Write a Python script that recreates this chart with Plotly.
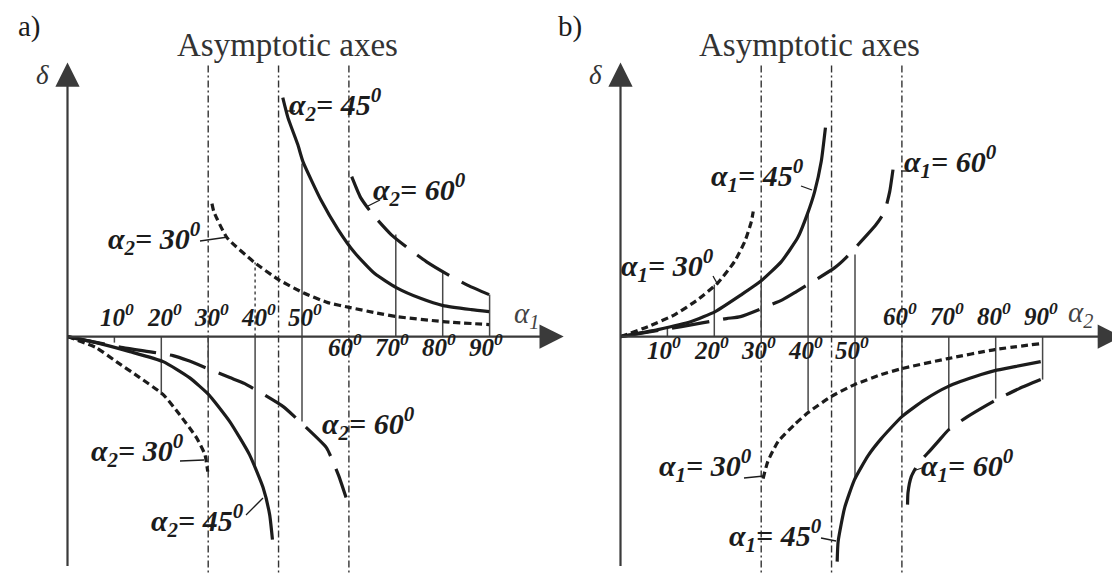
import plotly.graph_objects as go

# ---------------- data: x = angle (deg), y = deflection delta (arbitrary units) ----------------
# Panel a) delta vs alpha1 for alpha2 = 30, 45, 60 deg
a_up30_x = [30.8, 31.2, 34.0, 39.9, 45.0, 50.2, 55.5, 60.3, 65.5, 70.1, 80.1, 89.9]
a_up30_y = [13.3, 12.5, 9.9, 7.4, 5.7, 4.4, 3.4, 2.9, 2.4, 2.0, 1.5, 1.2]
a_up45_x = [45.9, 47.0, 49.1, 50.2, 54.1, 57.7, 61.2, 65.5, 70.1, 75.4, 80.1, 86.1, 89.9]
a_up45_y = [23.9, 21.9, 19.2, 17.5, 13.6, 10.7, 8.4, 6.3, 4.9, 3.8, 3.1, 2.7, 2.5]
a_up60_x = [60.6, 62.5, 65.1, 69.0, 72.7, 76.5, 81.1, 85.5, 89.9]
a_up60_y = [16.0, 13.9, 12.2, 10.2, 8.8, 7.5, 6.2, 5.1, 4.2]

a_lo30_x = [0.0, 6.1, 10.4, 15.4, 20.4, 23.9, 27.5, 29.3, 29.9]
a_lo30_y = [0.0, -1.1, -2.5, -4.1, -5.8, -7.8, -10.1, -11.8, -13.5]
a_lo45_x = [0.0, 6.1, 13.3, 20.4, 26.0, 30.1, 34.6, 38.8, 41.7, 43.1, 43.7]
a_lo45_y = [0.0, -0.6, -1.5, -2.5, -4.1, -5.8, -8.5, -11.8, -15.1, -17.8, -20.3]
a_lo60_x = [0.0, 11.8, 22.5, 25.7, 34.6, 37.8, 46.0, 48.4, 55.2, 56.6, 57.9, 59.4]
a_lo60_y = [0.0, -1.1, -1.9, -2.4, -4.1, -4.7, -7.0, -8.0, -11.1, -12.5, -14.0, -16.1]

a_vert_x = [40, 50, 70, 80, 90, 10, 20, 30, 40, 50]
a_vert_y = [7.4, 17.3, 10.2, 6.4, 4.2, -0.6, -5.8, -5.8, -13.1, -8.5]
a_vert_dotted = [True, False, False, False, False, False, False, False, False, False]

# Panel b) delta vs alpha2 for alpha1 = 30, 45, 60 deg
b_up30_x = [0.0, 5.9, 11.6, 16.5, 20.8, 24.3, 26.5, 27.9, 28.3]
b_up30_y = [0.0, 1.0, 2.2, 3.7, 5.4, 7.5, 9.5, 11.5, 12.5]
b_up45_x = [0.0, 8.0, 15.1, 20.2, 25.8, 29.8, 34.3, 37.8, 39.8, 41.4, 42.8, 43.7]
b_up45_y = [0.0, 0.7, 1.5, 2.5, 4.2, 5.5, 7.5, 9.9, 12.2, 14.5, 17.5, 20.9]
b_up60_x = [0.0, 13.0, 22.6, 25.6, 34.6, 37.5, 45.7, 48.1, 54.5, 56.3, 57.4, 58.1]
b_up60_y = [0.0, 1.0, 1.8, 2.0, 3.7, 4.5, 6.9, 7.9, 11.2, 12.5, 14.5, 16.7]

b_lo30_x = [30.4, 31.4, 33.6, 37.1, 40.0, 44.9, 49.9, 55.6, 60.0, 69.8, 79.8, 89.6]
b_lo30_y = [-14.2, -12.5, -10.5, -8.8, -7.6, -6.0, -4.8, -3.8, -3.2, -2.2, -1.3, -0.7]
b_lo45_x = [46.2, 46.4, 47.8, 49.9, 52.8, 55.6, 60.0, 64.9, 69.8, 76.9, 79.8, 84.1, 89.6]
b_lo45_y = [-22.5, -20.5, -17.1, -14.3, -11.9, -10.2, -8.0, -6.3, -5.0, -3.8, -3.4, -3.0, -2.5]
b_lo60_x = [61.2, 61.3, 62.0, 63.5, 66.0, 67.7, 70.0, 74.0, 78.3, 80.6, 85.0, 89.6]
b_lo60_y = [-16.8, -15.6, -14.0, -12.7, -11.4, -10.5, -9.3, -8.0, -6.8, -6.2, -5.2, -4.3]

b_vert_x = [10, 20, 30, 40, 50, 40, 50, 60, 70, 80, 90]
b_vert_y = [1.0, 5.2, 6.0, 12.4, 8.2, -7.4, -14.3, -8.0, -9.3, -6.2, -4.3]

asym_x = [30, 45, 60]
asym_y = [27.1, -24.7]

tick_vals = [10, 20, 30, 40, 50, 60, 70, 80, 90]
tick_text = ["10", "20", "30", "40", "50", "60", "70", "80", "90"]

# ---------------- styling ----------------
INK = "#1c1c1c"
THIN = "#484848"
AXC = "#3a3a3a"
SERIF = "Liberation Serif"
W, H = 1120, 575
PXDEG = 4.69
ORIG_A, ORIG_B, ORIG_Y = 59.5, 612.5, 328.6
PX_PER_D = 10.0

def P(x, y):
    return x / W, 1 - y / H

fig = go.Figure()

def curve(xs, ys, ax, dash):
    fig.add_trace(go.Scatter(x=xs, y=ys, xaxis=ax, yaxis="y", mode="lines",
                             line=dict(color=INK, width=3.2, dash=dash, shape="spline", smoothing=0.5),
                             hoverinfo="skip", showlegend=False))

def verticals(xs, ys, ax, dotted=None):
    for i, (vx, vy) in enumerate(zip(xs, ys)):
        d = "dot" if (dotted and dotted[i]) else "solid"
        fig.add_trace(go.Scatter(x=[vx, vx], y=[0, vy], xaxis=ax, yaxis="y", mode="lines",
                                 line=dict(color=THIN, width=1.5, dash=d),
                                 hoverinfo="skip", showlegend=False))

def asymptotes(ax):
    for vx in asym_x:
        fig.add_trace(go.Scatter(x=[vx, vx], y=asym_y, xaxis=ax, yaxis="y", mode="lines",
                                 line=dict(color="#333333", width=1.4, dash="7px,3px,2px,3px"),
                                 hoverinfo="skip", showlegend=False))

SHORT = "7px,4px"
LONG = "38px,14px"

for ax in ("x", "x2"):
    asymptotes(ax)
verticals(a_vert_x, a_vert_y, "x", a_vert_dotted)
verticals(b_vert_x, b_vert_y, "x2")

curve(a_up30_x, a_up30_y, "x", SHORT)
curve(a_up45_x, a_up45_y, "x", "solid")
curve(a_up60_x, a_up60_y, "x", LONG)
curve(a_lo30_x, a_lo30_y, "x", SHORT)
curve(a_lo45_x, a_lo45_y, "x", "solid")
curve(a_lo60_x, a_lo60_y, "x", LONG)

curve(b_up30_x, b_up30_y, "x2", SHORT)
curve(b_up45_x, b_up45_y, "x2", "solid")
curve(b_up60_x, b_up60_y, "x2", LONG)
curve(b_lo30_x, b_lo30_y, "x2", SHORT)
curve(b_lo45_x, b_lo45_y, "x2", "solid")
curve(b_lo60_x, b_lo60_y, "x2", LONG)

ann = []
shapes = []

# coordinate axes with arrows (drawn in data coordinates of each panel)
for ax, xmax in (("x", 105.8), ("x2", 106.9)):
    ann.append(dict(x=xmax, y=0, xref=ax, yref="y", ax=0, ay=0, axref=ax, ayref="y",
                    showarrow=True, arrowhead=2, arrowsize=2.2, arrowwidth=2.2,
                    arrowcolor=AXC, text=""))
    ann.append(dict(x=0, y=27.4, xref=ax, yref="y", ax=0, ay=-23.1, axref=ax, ayref="y",
                    showarrow=True, arrowhead=2, arrowsize=2.2, arrowwidth=2.2,
                    arrowcolor=AXC, text=""))

def txt(x, y, s, size, italic=True, bold=True, color=INK, xanchor="center"):
    if italic:
        s = "<i>" + s + "</i>"
    if bold:
        s = "<b>" + s + "</b>"
    px, py = P(x, y)
    ann.append(dict(x=px, y=py, xref="paper", yref="paper", text=s, showarrow=False,
                    xanchor=xanchor, yanchor="middle",
                    font=dict(family=SERIF, size=size, color=color)))

def lead(x0, y0, x1, y1):
    a0, b0 = P(x0, y0)
    a1, b1 = P(x1, y1)
    shapes.append(dict(type="line", xref="paper", yref="paper", x0=a0, y0=b0, x1=a1, y1=b1,
                       line=dict(color=INK, width=1.3)))

# panel titles
txt(21, 19, "a)", 29, italic=False, bold=False)
txt(562, 19, "b)", 29, italic=False, bold=False)
txt(279, 37, "Asymptotic axes", 33, italic=False, bold=False, color="#333333")
txt(801, 37, "Asymptotic axes", 33, italic=False, bold=False, color="#333333")
txt(34, 67, "δ", 27, bold=False, color="#333333")
txt(587, 67, "δ", 27, bold=False, color="#333333")
txt(518, 307, "α<sub>1</sub>", 29, bold=False, color="#444444")
txt(1072, 306, "α<sub>2</sub>", 29, bold=False, color="#444444")

# tick labels
for v, t in zip(tick_vals, tick_text):
    xa = ORIG_A + PXDEG * v
    xb = ORIG_B + PXDEG * v
    s = t + "<sup>0</sup>"
    if v <= 50:
        txt(xa + 3, 307, s, 25)
        txt(xb - 3, 340, s, 25)
    else:
        txt(xa - 4, 337, s, 25)
        txt(xb - 2, 306, s, 25)

# curve labels (left edge, vertical centre)
def alab(x, y, idx, val):
    txt(x - 9, y - 8, "α<sub>%d</sub>= %s<sup>0</sup>" % (idx, val), 30, xanchor="left")

alab(288, 105, 2, "45")
alab(372, 189, 2, "60")
alab(107, 238, 2, "30")
alab(90, 450, 2, "30")
alab(150, 520, 2, "45")
alab(321, 423, 2, "60")

alab(710, 175, 1, "45")
alab(620, 265, 1, "30")
alab(903, 162, 1, "60")
alab(658, 465, 1, "30")
alab(728, 535, 1, "45")
alab(920, 465, 1, "60")

# leader lines
lead(278, 103, 287, 103)
lead(360, 198, 372, 192)
lead(192, 233, 220, 229)
lead(172, 453, 196, 452)
lead(238, 507, 255, 490)
lead(793, 178, 804, 182)
lead(705, 268, 710, 277)
lead(893, 163, 901, 163)
lead(736, 470, 756, 468)
lead(813, 530, 828, 533)
lead(905, 463, 917, 459)

fig.update_layout(
    width=W, height=H, margin=dict(l=0, r=0, t=0, b=0, pad=0),
    paper_bgcolor="white", plot_bgcolor="white", showlegend=False,
    xaxis=dict(domain=[0, 0.5], range=[-ORIG_A / PXDEG, (560 - ORIG_A) / PXDEG],
               visible=False, fixedrange=True),
    xaxis2=dict(domain=[0.5, 1], range=[-(ORIG_B - 560) / PXDEG, (1120 - ORIG_B) / PXDEG],
                anchor="y", visible=False, fixedrange=True),
    yaxis=dict(domain=[0, 1], range=[(ORIG_Y - H) / PX_PER_D, ORIG_Y / PX_PER_D],
               visible=False, fixedrange=True),
    annotations=ann, shapes=shapes,
)

fig.write_html("out.html")
